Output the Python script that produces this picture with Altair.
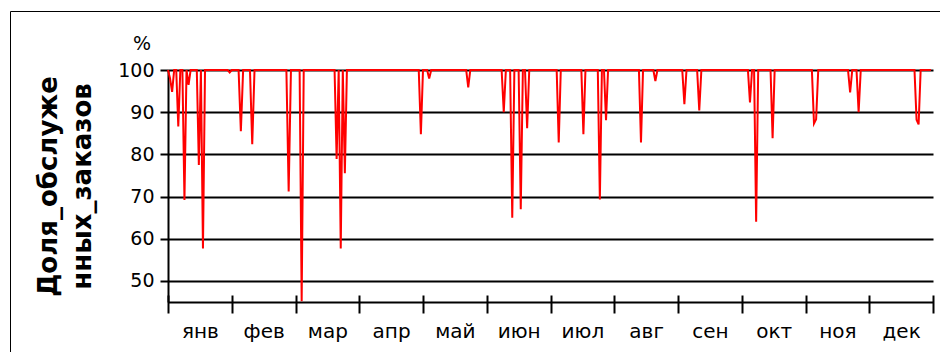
import altair as alt
import pandas as pd

# Month labels and lengths
months = ["янв", "фев", "мар", "апр", "май", "июн",
          "июл", "авг", "сен", "окт", "ноя", "дек"]
days_in_month = [31, 28, 31, 30, 31, 30, 31, 31, 30, 31, 30, 31]

# Days on which the share of served orders fell below 100 %
dip_month = [1, 1, 1, 1, 1, 1, 1, 1,
             2, 2, 2,
             3, 3, 3, 3,
             4,
             5, 5,
             6, 6, 6, 6,
             7, 7, 7, 7,
             8, 8,
             9, 9,
             10, 10, 10,
             11, 11, 11, 11,
             12, 12]
dip_day = [2, 3, 6, 9, 11, 16, 18, 31,
           5, 10, 26,
           4, 21, 23, 25,
           30,
           4, 23,
           9, 13, 17, 20,
           5, 17, 25, 28,
           14, 21,
           4, 11,
           5, 8, 16,
           5, 6, 22, 26,
           24, 25]
dip_value = [98.0, 94.8, 86.6, 69.2, 96.5, 77.5, 57.7, 99.4,
             85.5, 82.4, 71.2,
             45.2, 78.9, 57.7, 75.5,
             84.8,
             98.0, 95.9,
             90.0, 65.0, 67.0, 86.2,
             82.8, 84.8, 69.3, 88.1,
             82.8, 97.4,
             91.9, 90.4,
             92.3, 64.0, 83.8,
             87.3, 88.3, 94.7, 90.0,
             88.2, 87.1]

dips = {(m, d): v for m, d, v in zip(dip_month, dip_day, dip_value)}

# Daily series; every month takes one unit on the x scale
rows = []
for mi, n in enumerate(days_in_month):
    for d in range(1, n + 1):
        rows.append({"t": mi + (d - 1) / n,
                     "share": dips.get((mi + 1, d), 100.0)})
df = pd.DataFrame(rows)

FONT = "DejaVu Sans"
month_width = 765 / 12
label_expr = "[" + ",".join("'%s'" % m for m in months) + "][datum.value] || ''"

x_axis = alt.Axis(
    values=list(range(13)),
    labelExpr=label_expr,
    labelOffset=month_width / 2,
    labelFlush=False,
    labelOverlap=False,
    labelFont=FONT,
    labelFontSize=20,
    labelColor="black",
    labelPadding=8,
    tickSize=18,
    tickWidth=2,
    tickColor="black",
    offset=-7,
    domain=False,
    grid=False,
    title=None,
)

y_axis = alt.Axis(
    values=[45, 50, 60, 70, 80, 90, 100],
    labelExpr="datum.value == 45 ? '' : datum.label",
    tickOpacity={"condition": {"test": "datum.value == 45", "value": 0}, "value": 1},
    grid=True,
    gridColor="black",
    gridWidth=2,
    gridOpacity=1,
    domainColor="black",
    domainWidth=2,
    tickColor="black",
    tickWidth=2,
    tickSize=8,
    labelPadding=6,
    labelFont=FONT,
    labelFontSize=19,
    labelColor="black",
    title=["Доля_обслуже", "нных_заказов"],
    titleFont=FONT,
    titleFontSize=26,
    titleFontWeight="bold",
    titleColor="black",
    titleAngle=270,
    titleAlign="center",
    titleBaseline="alphabetic",
    titleLineHeight=34,
    titleX=-112,
    titleY=116,
)

line = alt.Chart(df).mark_line(color="#ff0000", strokeWidth=2).encode(
    x=alt.X("t:Q", scale=alt.Scale(domain=[0, 12], nice=False, zero=False), axis=x_axis),
    y=alt.Y("share:Q", scale=alt.Scale(domain=[45, 100], nice=False, zero=False), axis=y_axis),
)

unit = alt.Chart(pd.DataFrame({"unit": ["%"]})).mark_text(
    font=FONT, fontSize=19, color="black", align="center", baseline="middle"
).encode(text="unit:N", x=alt.value(-26), y=alt.value(-26))

frame = alt.Chart(pd.DataFrame({"k": [0]})).mark_rect(
    filled=False, stroke="black", strokeWidth=1
).encode(x=alt.value(-157.5), y=alt.value(-58.5), x2=alt.value(780), y2=alt.value(290))

chart = alt.layer(frame, line, unit).properties(
    width=765,
    height=232,
    autosize=alt.AutoSizeParams(type="none"),
    padding={"left": 168, "top": 70, "right": 7, "bottom": 50},
    background="white",
).configure_view(strokeWidth=0)

chart.save("out.html", embed_options={"renderer": "svg", "actions": False})
